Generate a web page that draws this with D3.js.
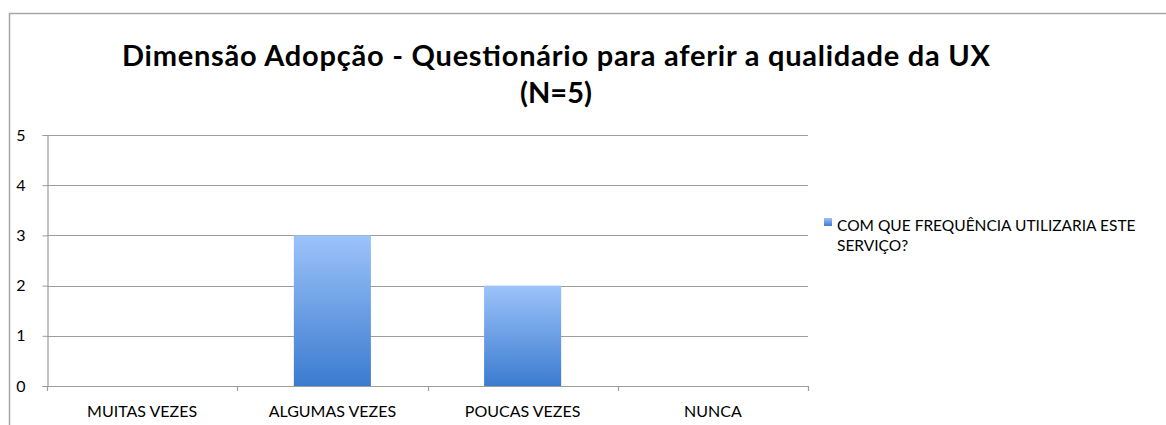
<!DOCTYPE html>
<html>
<head>
<meta charset="utf-8">
<script src="https://cdn.jsdelivr.net/npm/d3@7"></script>
<style>
  html, body { margin: 0; padding: 0; background: #fff; }
  svg { display: block; font-family: Lato, "Open Sans", sans-serif; }
</style>
</head>
<body>
<svg id="chart" width="1166" height="425"></svg>
<script>
// Categories and counts
const categories = ["MUITAS VEZES", "ALGUMAS VEZES", "POUCAS VEZES", "NUNCA"];
const seriesValues = [0, 3, 2, 0];
const seriesName = ["COM QUE FREQUÊNCIA UTILIZARIA ESTE", "SERVIÇO?"];
const yTicks = [0, 1, 2, 3, 4, 5];
const titleLines = ["Dimensão Adopção - Questionário para aferir a qualidade da UX", "(N=5)"];

const svg = d3.select("#chart");

// Outer frame
svg.append("rect")
  .attr("x", 9.5).attr("y", 13.5)
  .attr("width", 1200).attr("height", 500)
  .attr("fill", "none").attr("stroke", "#a6a6a6").attr("stroke-width", 1.5);

const plot = { left: 47, right: 808, top: 135, bottom: 386 };

const x = d3.scaleBand().domain(categories).range([plot.left, plot.right])
  .paddingInner(0.595).paddingOuter(0.2975);
const xTicks = d3.scaleBand().domain(categories).range([plot.left, plot.right]);
const y = d3.scaleLinear().domain([0, 5]).range([plot.bottom, plot.top]);

// Gradient for bars
const defs = svg.append("defs");
const grad = defs.append("linearGradient").attr("id", "barGrad")
  .attr("x1", 0).attr("y1", 0).attr("x2", 0).attr("y2", 1);
grad.append("stop").attr("offset", "0%").attr("stop-color", "#9cc3fa");
grad.append("stop").attr("offset", "100%").attr("stop-color", "#3b7bcf");

// Horizontal gridlines
svg.append("g").selectAll("line").data(yTicks).join("line")
  .attr("x1", plot.left).attr("x2", plot.right)
  .attr("y1", d => Math.round(y(d)) + 0.5).attr("y2", d => Math.round(y(d)) + 0.5)
  .attr("stroke", "#9d9d9d").attr("stroke-width", 1.2);

// Y axis
const yAxis = svg.append("g")
  .attr("transform", `translate(${plot.left + 0.5},0)`)
  .call(d3.axisLeft(y).tickValues(yTicks).tickSize(5).tickPadding(17).tickFormat(d3.format("d")));
yAxis.select(".domain").attr("stroke", "#9d9d9d").attr("stroke-width", 1.2);
yAxis.selectAll(".tick line").attr("stroke", "#9d9d9d");
yAxis.selectAll(".tick text").attr("font-size", 16).attr("fill", "#000")
  .attr("font-family", "Lato, sans-serif");

// X axis ticks at band boundaries
const boundaries = categories.map(c => xTicks(c)).concat([plot.right]);
svg.append("g").selectAll("line").data(boundaries).join("line")
  .attr("x1", d => Math.round(d) + 0.5).attr("x2", d => Math.round(d) + 0.5)
  .attr("y1", plot.bottom).attr("y2", plot.bottom + 5)
  .attr("stroke", "#9d9d9d").attr("stroke-width", 1.2);

// Category labels
svg.append("g").selectAll("text").data(categories).join("text")
  .attr("x", d => xTicks(d) + xTicks.bandwidth() / 2)
  .attr("y", 417)
  .attr("text-anchor", "middle")
  .attr("font-size", 16).attr("fill", "#000")
  .text(d => d);

// Bars
svg.append("g").selectAll("rect").data(categories.map((c, i) => ({ c, v: seriesValues[i] })))
  .join("rect")
  .attr("x", d => x(d.c))
  .attr("width", x.bandwidth())
  .attr("y", d => y(d.v))
  .attr("height", d => y(0) - y(d.v))
  .attr("fill", "url(#barGrad)");

// Title
svg.append("text")
  .attr("x", 556).attr("y", 66)
  .attr("text-anchor", "middle")
  .attr("font-size", 29).attr("font-weight", "bold").attr("fill", "#000")
  .attr("textLength", 868).attr("lengthAdjust", "spacing")
  .text(titleLines[0]);
svg.append("text")
  .attr("x", 556).attr("y", 103)
  .attr("text-anchor", "middle")
  .attr("font-size", 29).attr("font-weight", "bold").attr("fill", "#000")
  .text(titleLines[1]);

// Legend
const legend = svg.append("g").attr("transform", "translate(824,218)");
legend.append("rect").attr("width", 8).attr("height", 8).attr("fill", "url(#barGrad)");
legend.selectAll("text").data(seriesName).join("text")
  .attr("x", 13).attr("y", (d, i) => 13 + i * 20)
  .attr("font-size", 15.5).attr("fill", "#000")
  .text(d => d);
</script>
</body>
</html>
